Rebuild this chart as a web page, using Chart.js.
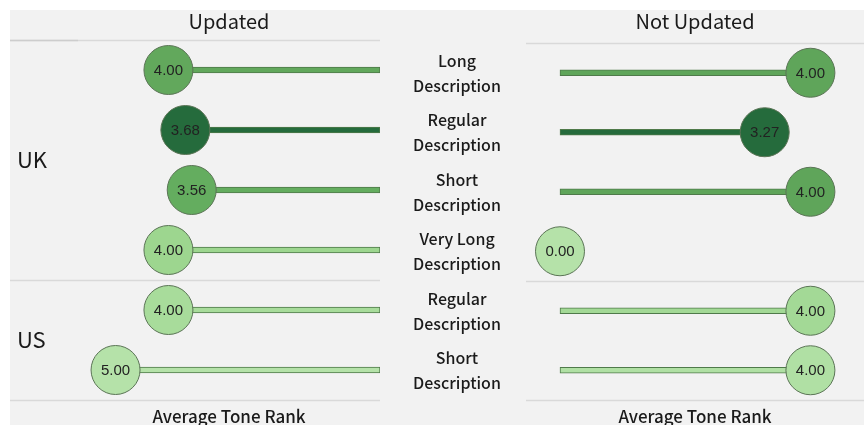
<!DOCTYPE html>
<html>
<head>
<meta charset="utf-8">
<script src="https://cdn.jsdelivr.net/npm/chart.js@4/dist/chart.umd.min.js"></script>
<style>
  body { margin: 0; background: #ffffff; width: 864px; height: 425px; overflow: hidden; position: relative; }
  #bg { position: absolute; left: 10px; top: 10px; width: 854px; height: 415px; background: #f2f2f2; }
  #left { position: absolute; left: 10px; top: 0; }
  #right { position: absolute; left: 390px; top: 0; }
</style>
</head>
<body>
<div id="bg"></div>
<canvas id="left" width="380" height="425"></canvas>
<canvas id="right" width="474" height="425"></canvas>
<script>
// datos
var categories = ['Long Description', 'Regular Description', 'Short Description',
                  'Very Long Description', 'Regular Description', 'Short Description'];
var groups = ['UK', 'UK', 'UK', 'UK', 'US', 'US'];
var updated = [4.00, 3.68, 3.56, 4.00, 4.00, 5.00];
var notUpdated = [4.00, 3.27, 4.00, 0.00, 4.00, 4.00];

var updatedColors = ['#62a85c', '#256b3c', '#64ad5f', '#9dd68f', '#a8dc9b', '#b5e2a9'];
var notUpdatedColors = ['#5fa55a', '#256b3c', '#5fa55a', '#b5e2a9', '#a3d996', '#b0e0a4'];

var textFont = '"Noto Sans CJK JP", "Noto Sans", sans-serif';

// lineas horizontales, titulos y numeros dentro de los circulos
const panelPlugin = {
    id: 'panel',
    beforeDatasetsDraw(chart, args, opts) {
        const ctx = chart.ctx, a = chart.chartArea, y = chart.scales.y;
        const split = groups.lastIndexOf('UK') + 0.5;
        ctx.save();
        ctx.lineWidth = 1.5;
        [a.top, y.getPixelForValue(split), a.bottom].forEach(function (py, i) {
            ctx.strokeStyle = '#d9d9d9';
            ctx.beginPath();
            ctx.moveTo(opts.lineStart, Math.round(py) + 0.5);
            ctx.lineTo(a.right, Math.round(py) + 0.5);
            ctx.stroke();
            if (i === 0 && opts.lineStart < a.left) {
                ctx.strokeStyle = '#cdcdcd';
                ctx.beginPath();
                ctx.moveTo(opts.lineStart, Math.round(py) + 0.5);
                ctx.lineTo(a.left, Math.round(py) + 0.5);
                ctx.stroke();
            }
        });
        ctx.restore();
    },
    afterDatasetsDraw(chart, args, opts) {
        const ctx = chart.ctx, a = chart.chartArea;
        const cx = (a.left + a.right) / 2;
        ctx.save();
        ctx.fillStyle = '#1a1a1a';
        ctx.textAlign = 'center';
        ctx.textBaseline = 'middle';
        ctx.font = '20px ' + textFont;
        ctx.fillText(opts.title, cx, 21);
        ctx.font = '500 17px ' + textFont;
        ctx.fillText('Average Tone Rank', cx, 417);
        // valores
        const meta = chart.getDatasetMeta(0);
        const vals = chart.data.datasets[0].data;
        ctx.font = '15px "Liberation Sans", Arial, sans-serif';
        ctx.fillStyle = '#222222';
        meta.data.forEach(function (pt, i) {
            ctx.fillText(vals[i].toFixed(2), pt.x, pt.y + 1);
        });
        ctx.restore();
    }
};

// UK / US
const groupPlugin = {
    id: 'groupLabels',
    afterDraw(chart) {
        const ctx = chart.ctx, y = chart.scales.y;
        ctx.save();
        ctx.font = '22px ' + textFont;
        ctx.fillStyle = '#1a1a1a';
        ctx.textAlign = 'left';
        ctx.textBaseline = 'middle';
        ['UK', 'US'].forEach(function (g) {
            const mid = (groups.indexOf(g) + groups.lastIndexOf(g)) / 2;
            ctx.fillText(g, 7, y.getPixelForValue(mid));
        });
        ctx.restore();
    }
};

// etiquetas de categoria en el centro
const categoryPlugin = {
    id: 'categoryLabels',
    afterDraw(chart) {
        const ctx = chart.ctx, y = chart.scales.y;
        ctx.save();
        ctx.font = '500 16px ' + textFont;
        ctx.fillStyle = '#1a1a1a';
        ctx.textAlign = 'center';
        ctx.textBaseline = 'middle';
        categories.forEach(function (c, i) {
            const cut = c.lastIndexOf(' ');
            const py = y.getPixelForValue(i);
            ctx.fillText(c.slice(0, cut), 67, py - 12);
            ctx.fillText(c.slice(cut + 1), 67, py + 13);
        });
        ctx.restore();
    }
};

const makeChart = (id, _data, _colors, _x, _padding, _title, _lineStart, extra) => {
    var ctx = document.getElementById(id).getContext('2d');
    return new Chart(ctx, {
        type: 'bar',
        data: {
            labels: categories,
            datasets: [
                {
                    type: 'line',
                    data: _data,
                    showLine: false,
                    pointRadius: 24.5,
                    pointHoverRadius: 24.5,
                    pointBackgroundColor: _colors,
                    pointBorderColor: '#5b7456',
                    pointBorderWidth: 1,
                    clip: false,
                    order: 0
                },
                {
                    data: _data,
                    backgroundColor: _colors,
                    borderColor: '#4f7a4a',
                    borderWidth: 1,
                    borderSkipped: false,
                    barThickness: 6,
                    order: 1
                }
            ]
        },
        options: {
            indexAxis: 'y',
            responsive: false,
            animation: false,
            layout: { padding: _padding, autoPadding: false },
            scales: {
                x: Object.assign({ display: false }, _x),
                y: { display: false }
            },
            plugins: {
                legend: { display: false },
                tooltip: { enabled: false },
                panel: { title: _title, lineStart: _lineStart }
            }
        },
        plugins: [panelPlugin, extra]
    });
};

makeChart('left', updated, updatedColors,
    { min: 0, max: 5.71, reverse: true },
    { left: 68, right: 10, top: 40, bottom: 25 }, 'Updated', 0, groupPlugin);

makeChart('right', notUpdated, notUpdatedColors,
    { min: -0.543, max: 4.856 },
    { left: 136, right: 0, top: 43, bottom: 25 }, 'Not Updated', 136, categoryPlugin);
</script>
</body>
</html>
